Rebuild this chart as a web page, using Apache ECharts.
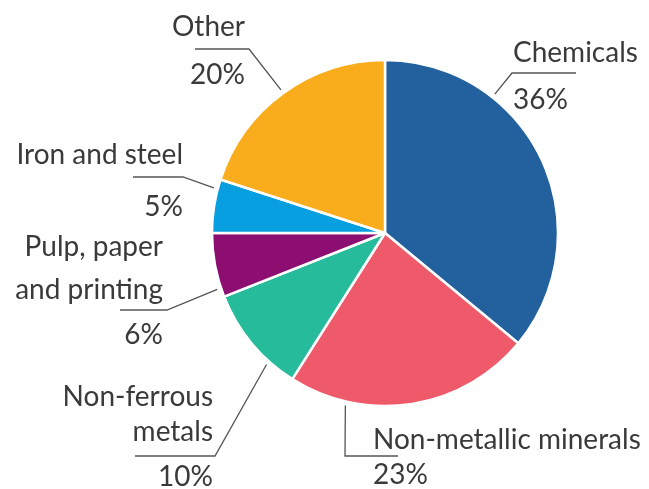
<!DOCTYPE html>
<html>
<head>
<meta charset="utf-8">
<style>
  html, body { margin: 0; padding: 0; background: #ffffff; }
  #chart { width: 649px; height: 489px; }
</style>
<script src="https://cdn.jsdelivr.net/npm/echarts@6/dist/echarts.min.js"></script>
</head>
<body>
<div id="chart"></div>
<script>
// Energy use in industry by sub-sector (share, %)
const categories = [
  'Chemicals',
  'Non-metallic minerals',
  'Non-ferrous metals',
  'Pulp, paper and printing',
  'Iron and steel',
  'Other'
];
const shares = [36, 23, 10, 6, 5, 20];
const sliceColors = ['#23609e', '#ef5a6b', '#26bb9a', '#8c0e71', '#079fdf', '#f9ad1d'];

// How each name is broken across lines in its label
const labelText = [
  'Chemicals',
  'Non-metallic minerals',
  'Non-ferrous\nmetals',
  'Pulp, paper\nand printing',
  'Iron and steel',
  'Other'
];

// Pie geometry (px)
const CX = 385, CY = 233, R = 173;

// Label placement: t = where along the slice the leader starts (0..1),
// x/top = text anchor, elbow/tail = bend and end of the leader,
// nl/pl = line heights of the name and the percentage
const placement = [
  { t: 0.296, align: 'left',  x: 513, top: 35,    nl: 36, pl: 58, elbow: [512, 73],  tail: [576, 73] },
  { t: 0.765, align: 'left',  x: 373, top: 423,   nl: 34, pl: 36, elbow: [345, 456], tail: [398, 456] },
  { t: 0.267, align: 'right', x: 213, top: 379.5, nl: 35, pl: 55, elbow: [215, 456], tail: [135, 456] },
  { t: 0.14,  align: 'right', x: 163, top: 225.5, nl: 43, pl: 47, elbow: [167, 310], tail: [120, 310] },
  { t: 0.82,  align: 'right', x: 183, top: 137,   nl: 36, pl: 68, elbow: [183, 177], tail: [133, 177] },
  { t: 0.5,   align: 'right', x: 245, top: 9,     nl: 36, pl: 60, elbow: [249, 49],  tail: [195, 49] }
];

const FONT = 'Lato';
const FONT_SIZE = 28;
const total = shares.reduce((a, b) => a + b, 0);
const cumulative = shares.map((v, i) => shares.slice(0, i).reduce((a, b) => a + b, 0));

// Point just outside the rim where a slice's leader starts
function leaderStart(i) {
  const f = (cumulative[i] + placement[i].t * shares[i]) / total;
  const a = f * Math.PI * 2;
  const r = R + 4;
  return [CX + r * Math.sin(a), CY - r * Math.cos(a)];
}

const rich = {};
placement.forEach((p, i) => {
  rich['n' + i] = { fontFamily: FONT, fontSize: FONT_SIZE, color: '#3a3a3a', lineHeight: p.nl, align: p.align };
  rich['p' + i] = { fontFamily: FONT, fontSize: FONT_SIZE, color: '#3a3a3a', lineHeight: p.pl, align: p.align };
});

const chart = echarts.init(document.getElementById('chart'), null, { renderer: 'canvas' });
chart.setOption({
  animation: false,
  backgroundColor: '#ffffff',
  series: [{
    type: 'pie',
    center: [CX, CY],
    radius: [0, R],
    startAngle: 90,
    clockwise: true,
    avoidLabelOverlap: false,
    data: categories.map((name, i) => ({
      name: name,
      value: shares[i],
      itemStyle: { color: sliceColors[i] }
    })),
    itemStyle: { borderColor: '#ffffff', borderWidth: 2.5 },
    label: {
      show: true,
      position: 'outside',
      formatter: (params) => {
        const i = params.dataIndex;
        const name = labelText[i].split('\n').map(s => '{n' + i + '|' + s + '}').join('\n');
        return name + '\n{p' + i + '|' + params.value + '%}';
      },
      rich: rich
    },
    labelLine: {
      show: true,
      smooth: false,
      lineStyle: { color: '#555555', width: 1.3 }
    },
    labelLayout: (params) => {
      const i = params.dataIndex;
      const p = placement[i];
      return {
        x: p.x,
        y: p.top,
        align: p.align,
        verticalAlign: 'top',
        labelLinePoints: [leaderStart(i), p.elbow, p.tail]
      };
    },
    emphasis: { disabled: true }
  }]
});
</script>
</body>
</html>
